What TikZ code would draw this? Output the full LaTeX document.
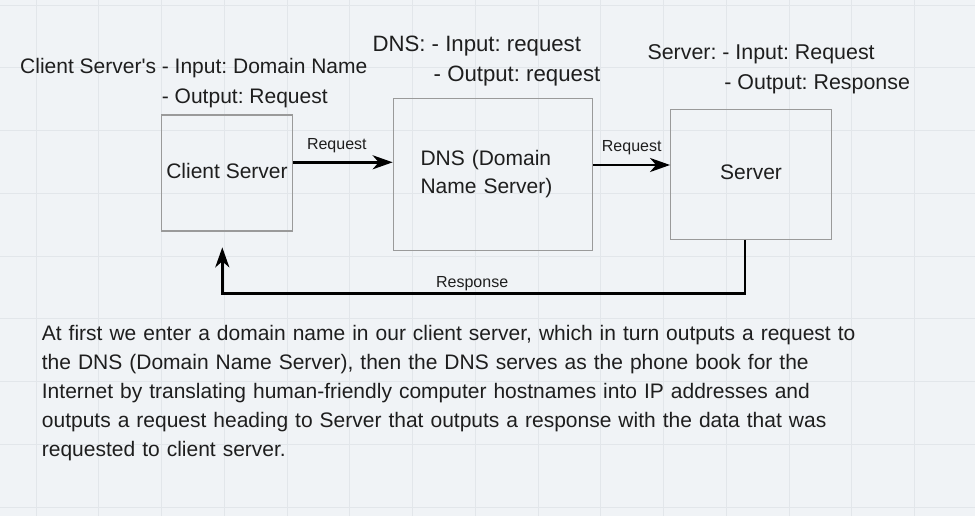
\documentclass[tikz,border=0pt]{standalone}
\usepackage{fontspec}
\setmainfont{Liberation Sans}[Ligatures=TeXOff]
\usetikzlibrary{arrows.meta, positioning}
\definecolor{canvasbg}{HTML}{F0F3F6}
\definecolor{gridgray}{HTML}{E2E6EA}
\definecolor{boxgray}{HTML}{9A9A9A}
\definecolor{inkblack}{HTML}{1E1E1E}
\frenchspacing

\begin{document}
\begin{tikzpicture}[
    x=1pt, y=-1pt,
    box/.style={rectangle, draw=boxgray, line width=1.3pt, text=inkblack, font=\fontsize{21}{28}\selectfont},
    oneline/.style={text height=15pt, text depth=4.5pt},
    note/.style={anchor=base west, inner sep=0pt, text=inkblack, font=\fontsize{21}{30}\selectfont},
    tag/.style={text=inkblack, font=\fontsize{16}{19}\selectfont},
    para/.style={anchor=base west, inner sep=0pt, text width=850pt, align=left, text=inkblack, font=\fontsize{21}{29.2}\selectfont},
    arrow/.style={-{Stealth[length=20pt, width=14pt, inset=6pt]}, line width=2.8pt, black},
    gridline/.style={draw=gridgray, line width=0.8pt}
]

% Canvas
\fill[canvasbg] (0,0) rectangle (975,516);
\useasboundingbox (0,0) rectangle (975,516);
\foreach \gx in {0,...,14} \draw[gridline] ({36+62.75*\gx},0) -- ++(0,516);
\foreach \gy in {0,...,8} \draw[gridline] (0,{5+62.75*\gy}) -- ++(975,0);

% Boxes
\node[box, oneline, minimum width=130.6pt, minimum height=116pt] (client) at (227,173) {Client Server};
\node[box, minimum width=199.4pt, minimum height=152.4pt, text width=145pt, align=left, right=99.7pt of client, yshift=-1.5pt] (dns) {DNS (Domain\\Name Server)};
\node[box, oneline, minimum width=160.6pt, minimum height=129.3pt, right=76.7pt of dns] (server) {Server};

% Notes
\node[note] (clientnote) at (20,73.3) {\begin{tabular}[t]{@{}l@{ }l@{}}Client Server's & - Input: Domain Name\\ & - Output: Request\end{tabular}};
\node[note, font=\fontsize{22.2}{30}\selectfont] (dnsnote) at (372.3,51.7) {\begin{tabular}[t]{@{}l@{ }l@{}}DNS: & - Input: request\\ & \hspace{2pt}- Output: request\end{tabular}};
\node[note, font=\fontsize{21.4}{30}\selectfont] (servernote) at (647.3,60) {\begin{tabular}[t]{@{}l@{ }l@{}}Server: & - Input: Request\\ & \hspace{2pt}- Output: Response\end{tabular}};

% Arrows
\coordinate (ret) at ([xshift=-4.7pt, yshift=-15.7pt]client.south);
\draw[arrow] ([yshift=10.7pt]client.east) -- node[tag, pos=0.44, above=5pt] {Request} ([yshift=10.7pt]client.east -| dns.west);
\draw[arrow] ([yshift=9.5pt]dns.east) -- node[tag, above=5pt] {Request} ([yshift=9.5pt]dns.east -| server.west);
\draw[arrow] ([xshift=-6pt]server.south) -- ++(0,54) -| node[tag, pos=0.261, above, inner sep=1.3pt] {Response} (ret);

% Description
\node[para] (summary) at (41.7,340) {At first we enter a domain name in our client server, which in turn outputs a request to\\
the DNS (Domain Name Server), then the DNS serves as the phone book for the\\
Internet by translating human-friendly computer hostnames into IP addresses and\\
outputs a request heading to Server that outputs a response with the data that was\\
requested to client server.};

\end{tikzpicture}
\end{document}
